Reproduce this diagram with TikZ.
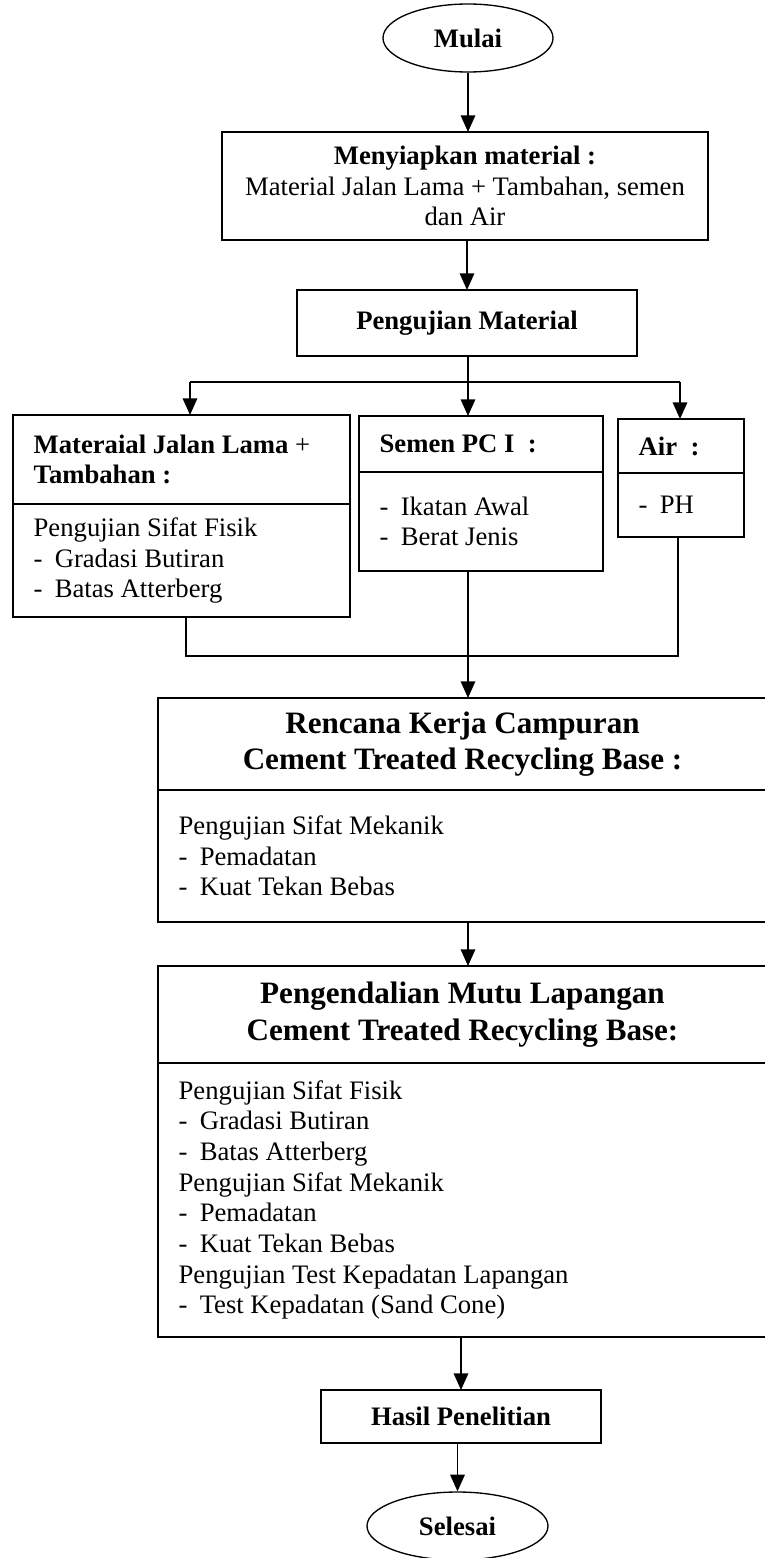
\documentclass[tikz,border=0pt]{standalone}
\usepackage{fontspec}
\setmainfont{Liberation Serif}
\usetikzlibrary{positioning,shapes.geometric,arrows.meta}

\newcommand{\butir}{-\hspace{5.5pt}}

\begin{document}
\begin{tikzpicture}[
  every node/.style={font=\fontsize{12}{13.8}\selectfont},
  terminal/.style={ellipse, draw, line width=0.6pt, minimum width=76.5pt, minimum height=30.6pt, inner sep=0pt, font=\fontsize{12}{13.8}\selectfont\bfseries},
  proses/.style={rectangle, draw, line width=0.85pt, inner sep=0pt, outer sep=0pt, align=center},
  judul/.style={proses, font=\fontsize{12}{13.8}\selectfont\bfseries},
  kepala/.style={judul, align=left, inner xsep=9.3pt, execute at begin node={\spaceskip=0pt\xspaceskip=0pt}},
  besar/.style={proses, font=\fontsize{14}{16.5}\selectfont\bfseries},
  isi/.style={proses, align=left, inner xsep=9.3pt, execute at begin node={\spaceskip=0pt\xspaceskip=0pt}},
  garis/.style={line width=0.85pt},
  panah/.style={garis, -{Triangle[length=7.5pt,width=6.5pt]}}
]
  \useasboundingbox (0,0) rectangle (344.25pt,-701.1pt);

  % Define nodes
  \node[terminal] (mulai) at (210.6pt,-17.1pt) {Mulai};
  \node[proses, minimum width=218.7pt, minimum height=48.6pt] (siap) at (209.25pt,-83.7pt)
    {\textbf{Menyiapkan material :}\\Material Jalan Lama + Tambahan, semen\\dan Air};
  \node[judul, minimum width=153pt, minimum height=29.7pt] (uji) at (210.15pt,-145.35pt) {Pengujian Material};

  \node[kepala, text width=133.05pt, minimum height=40.05pt] (jalan) at (81.675pt,-206.775pt)
    {Materaial Jalan Lama {\mdseries +}\\Tambahan :};
  \node[isi, text width=133.05pt, minimum height=50.85pt, below=0pt of jalan] (jalanisi)
    {Pengujian Sifat Fisik\\\butir Gradasi Butiran\\\butir Batas Atterberg};
  \node[kepala, text width=91.2pt, minimum height=25.2pt] (semen) at (216.45pt,-199.8pt) {Semen PC I~~:};
  \node[isi, text width=91.2pt, minimum height=44.55pt, below=0pt of semen] (semenisi)
    {\butir Ikatan Awal\\\butir Berat Jenis};
  \node[kepala, text width=38.1pt, minimum height=24.3pt] (air) at (306.45pt,-200.7pt) {Air~~:};
  \node[isi, text width=38.1pt, minimum height=28.8pt, below=0pt of air] (airisi) {\butir PH};

  \node[besar, minimum width=274.05pt, minimum height=41.4pt] (rencana) at (208.125pt,-334.8pt)
    {Rencana Kerja Campuran\\Cement Treated Recycling Base :};
  \node[isi, text width=255.45pt, minimum height=59.4pt, below=0pt of rencana] (rencanaisi)
    {Pengujian Sifat Mekanik\\\butir Pemadatan\\\butir Kuat Tekan Bebas};

  \node[besar, minimum width=274.05pt, minimum height=43.65pt] (kendali) at (208.125pt,-456.525pt)
    {Pengendalian Mutu Lapangan\\Cement Treated Recycling Base:};
  \node[isi, text width=255.45pt, minimum height=123.3pt, below=0pt of kendali] (kendaliisi)
    {Pengujian Sifat Fisik\\\butir Gradasi Butiran\\\butir Batas Atterberg\\
     Pengujian Sifat Mekanik\\\butir Pemadatan\\\butir Kuat Tekan Bebas\\
     Pengujian Test Kepadatan Lapangan\\\butir Test Kepadatan (Sand Cone)};

  \node[judul, minimum width=126pt, minimum height=23.85pt] (hasil) at (207.45pt,-637.425pt) {Hasil Penelitian};
  \node[terminal, minimum width=81.45pt] (selesai) at (205.875pt,-686.7pt) {Selesai};

  \coordinate (cabang) at (210.6pt,-171.9pt);
  \coordinate (cabkiri) at (85.5pt,-171.9pt);
  \coordinate (cabkanan) at (306pt,-171.9pt);
  \coordinate (gabung) at (210.6pt,-295.2pt);
  \coordinate (gabkiri) at (83.7pt,-295.2pt);
  \coordinate (gabkanan) at (305.1pt,-295.2pt);

  % Connect the nodes
  \draw[panah] (mulai.south) -- (mulai.south |- siap.north);
  \draw[panah] (uji.north |- siap.south) -- (uji.north);
  \draw[garis] (cabang |- uji.south) -- (cabang);
  \draw[garis] (cabkiri) -- (cabkanan);
  \draw[panah] (cabkiri) -- (cabkiri |- jalan.north);
  \draw[panah] (cabang) -- (cabang |- semen.north);
  \draw[panah] (cabkanan) -- (cabkanan |- air.north);
  \draw[garis] (gabkiri |- jalanisi.south) -- (gabkiri) -- (gabkanan) -- (gabkanan |- airisi.south);
  \draw[garis] (gabung |- semenisi.south) -- (gabung);
  \draw[panah] (gabung) -- (gabung |- rencana.north);
  \draw[panah] (gabung |- rencanaisi.south) -- (gabung |- kendali.north);
  \draw[panah] (hasil.north |- kendaliisi.south) -- (hasil.north);
  \draw[panah] (selesai.north |- hasil.south) -- (selesai.north);

\end{tikzpicture}
\end{document}
